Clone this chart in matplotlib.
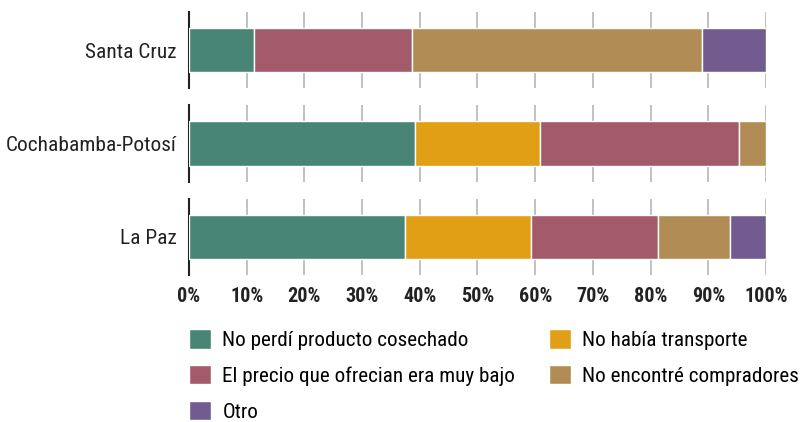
import matplotlib
matplotlib.use('Agg')
import matplotlib.pyplot as plt
from matplotlib import font_manager

# pick the narrowest family that is installed
installed = {f.name for f in font_manager.fontManager.ttflist}
preferred = ['Roboto Condensed', 'Liberation Sans Narrow', 'DejaVu Sans Condensed', 'Roboto', 'Liberation Sans']
family = [f for f in preferred if f in installed][0]
plt.rcParams['font.family'] = [family, 'DejaVu Sans']

regions = ['Santa Cruz', 'Cochabamba-Potosí', 'La Paz']
series_names = ['No perdí producto cosechado', 'No había transporte',
                'El precio que ofrecian era muy bajo', 'No encontré compradores', 'Otro']
no_perdi = [11.2, 39.1, 37.5]
no_transporte = [0, 21.7, 21.8]
precio_bajo = [27.5, 34.6, 21.9]
no_compradores = [50.2, 4.6, 12.5]
otro = [11.1, 0, 6.3]
colors = ['#488575', '#e09f14', '#a35a6b', '#b18c54', '#725b8f']
x_ticks = [0, 10, 20, 30, 40, 50, 60, 70, 80, 90, 100]

series = [no_perdi, no_transporte, precio_bajo, no_compradores, otro]

fig = plt.figure(figsize=(8.03, 4.22), dpi=100)
gs = fig.add_gridspec(3, 1, left=189/803, right=766/803, top=1-12/422, bottom=1-275/422, hspace=0.23)

handles = {}
for i, region in enumerate(regions):
    ax = fig.add_subplot(gs[i])
    left = 0
    for k, vals in enumerate(series):
        v = vals[i]
        if v > 0:
            b = ax.barh(0, v, left=left, height=0.58, color=colors[k], edgecolor='white', linewidth=1, zorder=3)
            handles[k] = b
        left += v
    ax.set_xlim(0, 100)
    ax.set_ylim(-0.5, 0.5)
    ax.set_xticks(x_ticks)
    ax.set_yticks([0])
    ax.set_yticklabels([region], fontsize=15.4, color='#222222')
    ax.grid(axis='x', color='#bcbcbc', linewidth=1.3, zorder=0)
    for s in ['top', 'right', 'bottom']:
        ax.spines[s].set_visible(False)
    ax.spines['left'].set_color('#222222')
    ax.spines['left'].set_linewidth(1.5)
    ax.tick_params(axis='both', length=0)
    ax.tick_params(axis='y', pad=9)
    if i < 2:
        ax.set_xticklabels([])
    else:
        ax.set_xticklabels([f'{t}%' for t in x_ticks], fontsize=14.5, fontweight='bold', color='#222222')
        ax.tick_params(axis='x', pad=9)

order = [0, 2, 4, 1, 3]
fig.legend([handles[k] for k in order], [series_names[k] for k in order],
           loc='upper left', bbox_to_anchor=(189/803, 1-329/422), ncol=2, frameon=False,
           fontsize=15.2, handlelength=1.05, handleheight=1.05, handletextpad=0.53,
           columnspacing=1.6, labelspacing=0.7, borderpad=0, borderaxespad=0)

fig.savefig('out.png', dpi=100)
